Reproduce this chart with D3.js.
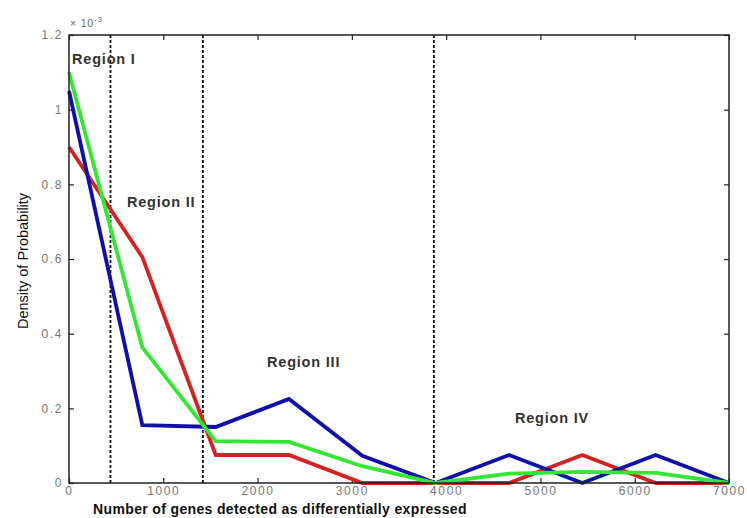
<!DOCTYPE html>
<html>
<head>
<meta charset="utf-8">
<script src="https://cdn.jsdelivr.net/npm/d3@7"></script>
<style>
  body { margin: 0; background: #fff; }
  text { font-family: "Liberation Sans", Arial, sans-serif; }
</style>
</head>
<body>
<div id="chart"></div>
<script>
// x positions of the density estimate (genes detected)
var genes = [0, 778, 1556, 2333, 3111, 3889, 4667, 5444, 6222, 7000];

// density values, units of 1e-3
var blueSeries  = [1.05, 0.155, 0.15, 0.225, 0.073, 0, 0.075, 0, 0.075, 0];
var redSeries   = [0.90, 0.605, 0.075, 0.075, 0, 0, 0, 0.075, 0, 0];
var greenSeries = [1.10, 0.363, 0.112, 0.11, 0.045, 0, 0.025, 0.03, 0.027, 0];

var boundaries = [440, 1420, 3870];
var regionNames = ["Region I", "Region II", "Region III", "Region IV"];
var regionLabelPos = [[32, 1.122], [615, 0.74], [2100, 0.312], [4730, 0.1615]];

var xTicks = [0, 1000, 2000, 3000, 4000, 5000, 6000, 7000];
var yTicks = [0, 0.2, 0.4, 0.6, 0.8, 1, 1.2];

var width = 747,
    height = 518,
    margin = {top: 35, right: 18, bottom: 35, left: 69};

var svg = d3.select("#chart")
    .append("svg")
    .attr("width", width)
    .attr("height", height);

var x = d3.scaleLinear()
    .domain([0, 7000])
    .range([margin.left, width - margin.right]);

var y = d3.scaleLinear()
    .domain([0, 1.2])
    .range([height - margin.bottom, margin.top]);

// box + inward ticks (matlab style)
var tickStyle = function(g) {
    g.select(".domain").remove();
    g.selectAll(".tick line").attr("stroke", "#222").attr("stroke-width", 1.2);
    g.selectAll(".tick text").attr("fill", "#777").attr("font-size", 12).attr("letter-spacing", 1.6);
};

svg.append("g")
    .attr("transform", "translate(0," + y(0) + ")")
    .call(d3.axisBottom(x).tickValues(xTicks).tickSize(-5).tickPadding(3).tickFormat(d3.format("d")))
    .call(tickStyle);

svg.append("g")
    .attr("transform", "translate(0," + y(1.2) + ")")
    .call(d3.axisTop(x).tickValues(xTicks).tickSize(-5).tickFormat(""))
    .call(tickStyle);

svg.append("g")
    .attr("transform", "translate(" + x(0) + ",0)")
    .call(d3.axisLeft(y).tickValues(yTicks).tickSize(-5).tickPadding(6).tickFormat(function(d) { return d === 0 || d === 1 ? d : d3.format(".1f")(d); }))
    .call(tickStyle);

svg.append("g")
    .attr("transform", "translate(" + x(7000) + ",0)")
    .call(d3.axisRight(y).tickValues(yTicks).tickSize(-5).tickFormat(""))
    .call(tickStyle);

// region boundaries
svg.selectAll(".bound")
    .data(boundaries)
    .enter().append("line")
    .attr("class", "bound")
    .attr("x1", function(d) { return x(d); })
    .attr("x2", function(d) { return x(d); })
    .attr("y1", y(1.2))
    .attr("y2", y(0))
    .attr("stroke", "#111")
    .attr("stroke-width", 1.8)
    .attr("stroke-dasharray", "3,2");

var line = d3.line()
    .x(function(d, i) { return x(genes[i]); })
    .y(function(d) { return y(d); });

var series = [
    {values: redSeries, color: "#d42222"},
    {values: blueSeries, color: "#1010a8"},
    {values: greenSeries, color: "#33e633"}
];

svg.selectAll(".series")
    .data(series)
    .enter().append("path")
    .attr("class", "series")
    .attr("d", function(d) { return line(d.values); })
    .attr("fill", "none")
    .attr("stroke", function(d) { return d.color; })
    .attr("stroke-width", 3.8)
    .attr("stroke-linejoin", "miter");

svg.append("rect")
    .attr("x", x(0))
    .attr("y", y(1.2))
    .attr("width", x(7000) - x(0))
    .attr("height", y(0) - y(1.2))
    .attr("fill", "none")
    .attr("stroke", "#222")
    .attr("stroke-width", 1.5);

svg.selectAll(".region")
    .data(regionNames)
    .enter().append("text")
    .attr("class", "region")
    .attr("x", function(d, i) { return x(regionLabelPos[i][0]); })
    .attr("y", function(d, i) { return y(regionLabelPos[i][1]); })
    .attr("font-size", 14.5)
    .attr("letter-spacing", 0.8)
    .attr("font-weight", "bold")
    .attr("fill", "#333")
    .text(function(d) { return d; });

// exponent
var ex = svg.append("text")
    .attr("x", x(0) + 1)
    .attr("y", margin.top - 8)
    .attr("font-size", 10.5)
    .attr("letter-spacing", 0.8)
    .attr("fill", "#666");
ex.append("tspan").text("\u00d7 10");
ex.append("tspan").attr("dy", -5).attr("font-size", 8).text("-3");

svg.append("text")
    .attr("x", 280)
    .attr("y", 514)
    .attr("text-anchor", "middle")
    .attr("font-size", 14)
    .attr("letter-spacing", 0.35)
    .attr("font-weight", "bold")
    .attr("fill", "#111")
    .text("Number of genes detected as differentially expressed");

svg.append("text")
    .attr("transform", "translate(28," + 261 + ")rotate(-90)")
    .attr("text-anchor", "middle")
    .attr("font-size", 14.5)
    .attr("fill", "#111")
    .text("Density of Probability");
</script>
</body>
</html>
